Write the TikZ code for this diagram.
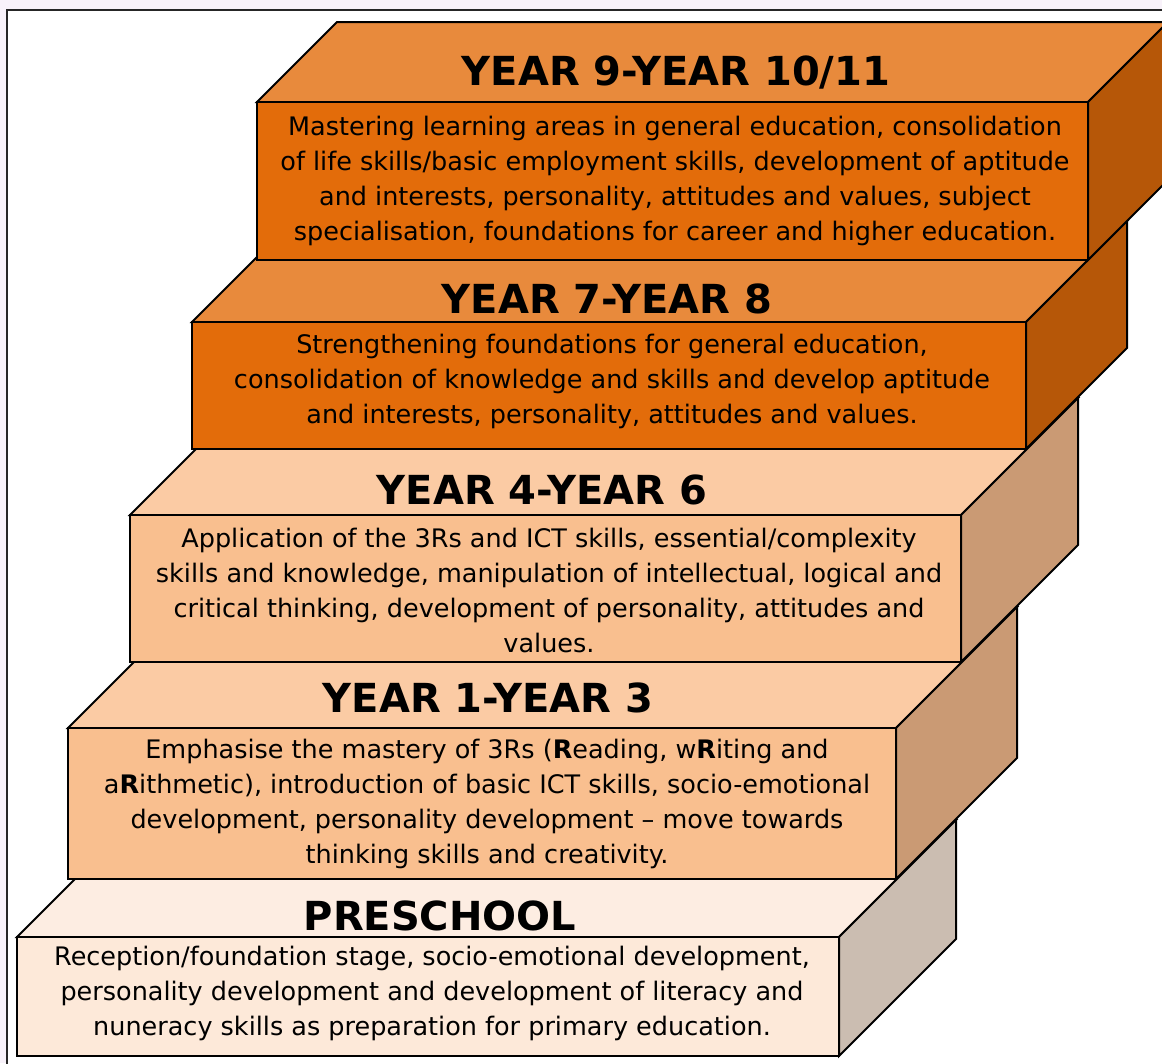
\documentclass[tikz,border=0pt]{standalone}
\usepackage{fontspec}
\setmainfont{DejaVu Sans}
\usepackage{xcolor}
\usepackage{tikz}

\definecolor{darkfront}{HTML}{E36C0A}
\definecolor{darktop}{HTML}{E88A3C}
\definecolor{darkside}{HTML}{B65708}
\definecolor{midfront}{HTML}{F9BF8F}
\definecolor{midtop}{HTML}{FBCBA4}
\definecolor{midside}{HTML}{CA9A74}
\definecolor{lightfront}{HTML}{FDE9D9}
\definecolor{lighttop}{HTML}{FDEDE2}
\definecolor{lightside}{HTML}{CBBDB1}
\definecolor{pagebg}{HTML}{F8F2FA}

\begin{document}
\begin{tikzpicture}[
  x=1pt, y=-1pt,
  face/.style={draw=black, line width=2pt, line join=miter},
  heading/.style={inner sep=0pt, anchor=base, font=\fontsize{40}{44}\selectfont\bfseries},
  body/.style={inner sep=0pt, align=center, font=\fontsize{25.5}{35}\selectfont}
]

\fill[pagebg] (0,0) rectangle (1162,1063);
\useasboundingbox (0,0) rectangle (1162,1063);
\clip (0,0) rectangle (1162,1063);
\filldraw[fill=white, draw=black!85, line width=2.5pt] (7,10) rectangle (1190,1090);

% preschool
\filldraw[face, fill=lighttop] (17,937) -- (134,820) -- (956,820) -- (839,937) -- cycle;
\filldraw[face, fill=lightside] (839,937) -- (956,820) -- (956,939) -- (839,1056) -- cycle;
\filldraw[face, fill=lightfront] (17,937) rectangle (839,1056);
\node[heading] (pre-head) at (440,930) {PRESCHOOL};
\node[body] (pre-text) at (432,993) {Reception/foundation stage, socio-emotional development,\\
  personality development and development of literacy and\\
  nuneracy skills as preparation for primary education.};

% year 1 - year 3
\filldraw[face, fill=midtop] (68,728) -- (189,607) -- (1017,607) -- (896,728) -- cycle;
\filldraw[face, fill=midside] (896,728) -- (1017,607) -- (1017,758) -- (896,879) -- cycle;
\filldraw[face, fill=midfront] (68,728) rectangle (896,879);
\node[heading] (low-head) at (488,712) {YEAR 1-YEAR 3};
\node[body] (low-text) at (487,804) {Emphasise the mastery of 3Rs (\textbf{R}eading, w\textbf{R}iting and\\
  a\textbf{R}ithmetic), introduction of basic ICT skills, socio-emotional\\
  development, personality development -- move towards\\
  thinking skills and creativity.};

% year 4 - year 6
\filldraw[face, fill=midtop] (130,515) -- (247,398) -- (1078,398) -- (961,515) -- cycle;
\filldraw[face, fill=midside] (961,515) -- (1078,398) -- (1078,545) -- (961,662) -- cycle;
\filldraw[face, fill=midfront] (130,515) rectangle (961,662);
\node[heading] (upp-head) at (542,504) {YEAR 4-YEAR 6};
\node[body] (upp-text) at (549,590) {Application of the 3Rs and ICT skills, essential/complexity\\
  skills and knowledge, manipulation of intellectual, logical and\\
  critical thinking, development of personality, attitudes and\\
  values.};

% year 7 - year 8
\filldraw[face, fill=darktop] (192,322) -- (293,221) -- (1127,221) -- (1026,322) -- cycle;
\filldraw[face, fill=darkside] (1026,322) -- (1127,221) -- (1127,348) -- (1026,449) -- cycle;
\filldraw[face, fill=darkfront] (192,322) rectangle (1026,449);
\node[heading] (mid-head) at (607,313) {YEAR 7-YEAR 8};
\node[body] (mid-text) at (612,381) {Strengthening foundations for general education,\\
  consolidation of knowledge and skills and develop aptitude\\
  and interests, personality, attitudes and values.};

% year 9 - year 10/11
\filldraw[face, fill=darktop] (257,102) -- (337,22) -- (1168,22) -- (1088,102) -- cycle;
\filldraw[face, fill=darkside] (1088,102) -- (1168,22) -- (1168,180) -- (1088,260) -- cycle;
\filldraw[face, fill=darkfront] (257,102) rectangle (1088,260);
\node[heading] (top-head) at (676,85) {YEAR 9-YEAR 10/11};
\node[body] (top-text) at (675,181) {Mastering learning areas in general education, consolidation\\
  of life skills/basic employment skills, development of aptitude\\
  and interests, personality, attitudes and values, subject\\
  specialisation, foundations for career and higher education.};

\end{tikzpicture}
\end{document}
